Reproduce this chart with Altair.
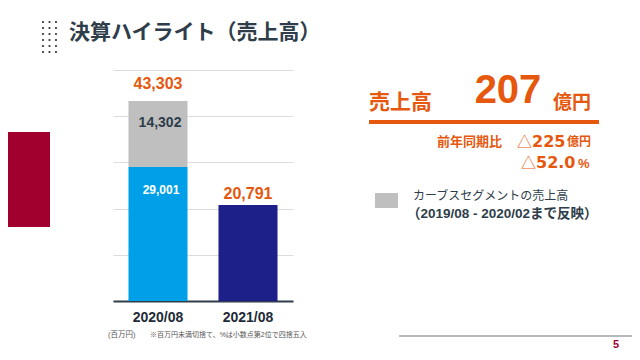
import altair as alt
import pandas as pd

# ---- data ----
years = ["2020/08", "2020/08", "2021/08"]
segments = ["core", "curves", "core2"]
values = [29001, 14302, 20791]
seg_colors = ["#00a0e9", "#bfbfbf", "#1d2088"]
inner_labels = ["29,001", "14,302", ""]
total_years = ["2020/08", "2021/08"]
total_labels = ["43,303", "20,791"]
totals = [43303, 20791]

TITLE = "決算ハイライト（売上高）"
UNIT_NOTE = "(百万円)"
FOOT_NOTE = "※百万円未満切捨て、%は小数点第2位で四捨五入"
LEGEND_1 = "カーブスセグメントの売上高"
LEGEND_2 = "（2019/08 - 2020/02まで反映）"
PAGE_NO = "5"

ORANGE = "#e5580e"
DARK = "#2e3d49"
CRIMSON = "#a1002e"
LATIN = "Liberation Sans, Noto Sans CJK JP"
CJK = "Noto Sans CJK JP"

OX, OY = 113, 70  # page position of plot origin

df = pd.DataFrame({"year": years, "segment": segments, "value": values,
                   "order": [0, 1, 0], "inner": inner_labels})
tot = pd.DataFrame({"year": total_years, "total": totals, "label": total_labels})

xenc = alt.X("year:N", title=None, sort=total_years,
             scale=alt.Scale(paddingInner=0.344, paddingOuter=0.172),
             axis=alt.Axis(labelAngle=0, labelFont=LATIN, labelFontSize=14,
                           labelFontWeight="bold", labelColor="#1e2b37",
                           labelPadding=9, ticks=False, domain=True,
                           domainColor=DARK, domainWidth=2))
yscale = alt.Scale(domain=[0, 50000], nice=False)

base = alt.Chart(df).transform_stack(
    stack="value", groupby=["year"], as_=["v0", "v1"],
    sort=[alt.SortField("order", "ascending")])

bars = base.mark_bar().encode(
    x=xenc,
    y=alt.Y("v0:Q", scale=yscale, title=None,
            axis=alt.Axis(values=[0, 10000, 20000, 30000, 40000, 50000],
                          labels=False, ticks=False, domain=False,
                          grid=True, gridColor="#dcdcdc", gridWidth=1)),
    y2="v1:Q",
    color=alt.Color("segment:N", legend=None,
                    scale=alt.Scale(domain=segments, range=seg_colors)),
)

inner_core = base.transform_filter(alt.datum.segment == "core").mark_text(
    font=LATIN, fontWeight="bold", baseline="middle", fontSize=12,
    color="#ffffff", dx=3, dy=23).encode(
    x=alt.X("year:N", sort=total_years),
    y=alt.Y("v1:Q", scale=yscale),
    text="inner:N")
inner_curves = base.transform_filter(alt.datum.segment == "curves").mark_text(
    font=LATIN, fontWeight="bold", baseline="middle", fontSize=14,
    color=DARK, dx=2, dy=22).encode(
    x=alt.X("year:N", sort=total_years),
    y=alt.Y("v1:Q", scale=yscale),
    text="inner:N")

tot_base = alt.Chart(tot)
tot_a = tot_base.transform_filter(alt.datum.year == "2020/08").mark_text(
    font=LATIN, fontWeight="bold", fontSize=16, color=ORANGE,
    baseline="alphabetic", dy=-12).encode(
    x=alt.X("year:N", sort=total_years), y=alt.Y("total:Q", scale=yscale), text="label:N")
tot_b = tot_base.transform_filter(alt.datum.year == "2021/08").mark_text(
    font=LATIN, fontWeight="bold", fontSize=16, color=ORANGE,
    baseline="alphabetic", dy=-6).encode(
    x=alt.X("year:N", sort=total_years), y=alt.Y("total:Q", scale=yscale), text="label:N")

chart_core = alt.layer(bars, inner_core, inner_curves, tot_a, tot_b)

one = alt.Data(values=[{"k": 1}])


def txt(s, x, y, size, color, weight="normal", font=LATIN, align="left",
        baseline="middle"):
    return alt.Chart(one).mark_text(
        text=s, fontSize=size, color=color, fontWeight=weight, font=font,
        align=align, baseline=baseline).encode(
        x=alt.value(x - OX), y=alt.value(y - OY))


def box(x1, x2, y1, y2, color):
    return alt.Chart(one).mark_rect(color=color).encode(
        x=alt.value(x1 - OX), x2=alt.value(x2 - OX),
        y=alt.value(y1 - OY), y2=alt.value(y2 - OY))


def hline(x1, x2, y, color, w):
    return alt.Chart(one).mark_rule(color=color, strokeWidth=w).encode(
        x=alt.value(x1 - OX), x2=alt.value(x2 - OX), y=alt.value(y - OY))


dot_rows = pd.DataFrame({"col": [c for r in range(6) for c in range(3)],
                         "row": [r for r in range(6) for c in range(3)]})
dots = alt.Chart(dot_rows).transform_calculate(
    px=f"{43 - OX} + 6.5 * datum.col",
    py=f"{22 - OY} + 6 * datum.row",
).mark_circle(size=5, color="#333333", opacity=1).encode(
    x=alt.X("px:Q", scale=None, axis=None),
    y=alt.Y("py:Q", scale=None, axis=None))

annot = [
    box(0, 50, 132, 227, CRIMSON),
    dots,
    txt(TITLE, 69, 33, 21, DARK, "bold", CJK),
    txt("売上高", 369, 103, 21, ORANGE, "bold", CJK),
    txt("207", 508, 103, 40, ORANGE, "bold", "Liberation Sans", "center", "alphabetic"),
    txt("億円", 553, 103, 19, ORANGE, "bold", CJK),
    hline(369, 599, 122, ORANGE, 4),
    txt("前年同期比", 437, 142, 13, ORANGE, "bold", CJK),
    txt("△", 517, 142, 15, ORANGE, "normal", CJK),
    txt("225", 532, 142, 16, ORANGE, "bold", "DejaVu Sans"),
    txt("億円", 567, 142, 12, ORANGE, "bold", CJK),
    txt("△", 521, 163, 15, ORANGE, "normal", CJK),
    txt("52.0", 536, 163, 16, ORANGE, "bold", "DejaVu Sans"),
    txt("%", 578, 164, 13, ORANGE, "bold", LATIN),
    box(375, 398, 193, 208, "#bfbfbf"),
    txt(LEGEND_1, 413, 196, 12, DARK, "normal", LATIN),
    txt(LEGEND_2, 407, 214, 13.5, DARK, "bold", LATIN),
    txt(UNIT_NOTE, 108, 335, 7.5, "#555555", "normal", LATIN),
    txt(FOOT_NOTE, 150, 335, 7, "#555555", "normal", LATIN),
    hline(399, 640, 336, "#b5b9bd", 2),
    txt(PAGE_NO, 616, 345, 11, CRIMSON, "bold", LATIN, "center"),
]

chart = alt.layer(chart_core, *annot).resolve_scale(
    x="independent", y="independent").properties(
    width=180, height=231, autosize="none",
    padding={"left": OX - 8, "top": OY - 8, "right": 624 - (OX - 8) - 180,
             "bottom": 344 - (OY - 8) - 231},
    background="white",
).configure_view(strokeWidth=0)

chart.save("out.html", embed_options={"renderer": "svg", "actions": False})
